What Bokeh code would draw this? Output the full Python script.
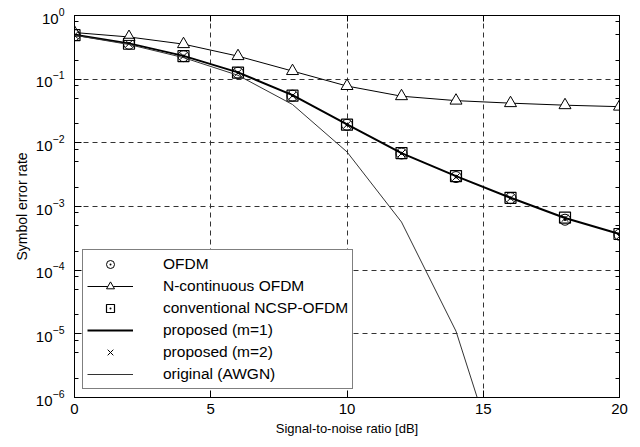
import numpy as np
from bokeh.plotting import figure
from bokeh.models import (Range1d, FixedTicker, LogAxis, LinearAxis, Legend, LegendItem,
                          LogTickFormatter)
from bokeh.embed import file_html
from bokeh.resources import INLINE

snr = [0, 2, 4, 6, 8, 10, 12, 14, 16, 18, 20]
ser_ofdm = [0.49, 0.36, 0.23, 0.126, 0.055, 0.0192, 0.0068, 0.0029, 0.00135, 0.00062, 0.00036]
ser_ncofdm = [0.54, 0.46, 0.355, 0.23, 0.134, 0.078, 0.054, 0.046, 0.042, 0.039, 0.037]
ser_conv = [0.49, 0.36, 0.23, 0.127, 0.055, 0.0193, 0.0069, 0.0030, 0.00137, 0.00067, 0.00037]
ser_prop1 = [0.50, 0.365, 0.232, 0.128, 0.056, 0.0195, 0.0069, 0.0030, 0.00137, 0.00066, 0.00037]
ser_prop2 = [0.49, 0.36, 0.23, 0.126, 0.055, 0.0192, 0.0068, 0.0029, 0.00135, 0.00065, 0.00034]
snr_awgn = [0, 2, 4, 6, 8, 10, 12, 14, 16]
ser_awgn = [0.49, 0.35, 0.218, 0.115, 0.040, 0.0072, 0.00057, 1.1e-5, 2.3e-8]

x_ticks = [0, 5, 10, 15, 20]
y_ticks = [1e-6, 1e-5, 1e-4, 1e-3, 1e-2, 1e-1, 1]
y_minor = [k * 10.0 ** e for e in range(-6, 0) for k in (2, 5, 8)]

FONT = "Liberation Sans"

p = figure(width=640, height=447, y_axis_type="log", output_backend="svg",
           toolbar_location=None, x_range=Range1d(0, 20), y_range=Range1d(1e-6, 1))
p.min_border_left = 74
p.min_border_right = 21
p.min_border_top = 15
p.min_border_bottom = 50
p.outline_line_color = "black"
p.outline_line_width = 1
p.background_fill_color = "white"
p.border_fill_color = "white"

p.xaxis.ticker = FixedTicker(ticks=x_ticks, minor_ticks=[])
p.yaxis.ticker = FixedTicker(ticks=y_ticks, minor_ticks=y_minor)
p.yaxis.formatter = LogTickFormatter()
for ax in (p.xaxis[0], p.yaxis[0]):
    ax.major_tick_in = 7
    ax.major_tick_out = 0
    ax.minor_tick_in = 4
    ax.minor_tick_out = 0
    ax.axis_line_color = "black"
    ax.major_tick_line_color = "black"
    ax.minor_tick_line_color = "black"
    ax.major_label_text_font = FONT
    ax.major_label_text_font_size = "15px"
    ax.major_label_text_color = "black"
    ax.axis_label_text_font = FONT
    ax.axis_label_text_font_style = "normal"
    ax.axis_label_text_color = "black"
p.xaxis.axis_label_text_font_size = "13px"
p.yaxis.axis_label_text_font_size = "14px"
p.xaxis.axis_label = "Signal-to-noise ratio [dB]"
p.yaxis.axis_label = "Symbol error rate"
p.xaxis.major_label_standoff = 6
p.yaxis.major_label_standoff = 10
p.xaxis.axis_label_standoff = 4
p.yaxis.axis_label_standoff = 3

# mirrored tick marks (no labels): all ticks given as minor ticks
right = LogAxis(ticker=FixedTicker(ticks=[], minor_ticks=y_minor + y_ticks),
                major_tick_in=0, major_tick_out=0, minor_tick_in=4, minor_tick_out=0,
                axis_line_color="black", minor_tick_line_color="black")
p.add_layout(right, "right")
top = LinearAxis(ticker=FixedTicker(ticks=[], minor_ticks=x_ticks),
                 major_tick_in=0, major_tick_out=0, minor_tick_in=6, minor_tick_out=0,
                 axis_line_color="black", minor_tick_line_color="black")
p.add_layout(top, "above")

for g in (p.xgrid[0], p.ygrid[0]):
    g.grid_line_color = "#333333"
    g.grid_line_dash = "5 4"
    g.grid_line_width = 1
p.xgrid.ticker = FixedTicker(ticks=x_ticks)
p.ygrid.ticker = FixedTicker(ticks=y_ticks)

r_ofdm = p.scatter(snr, ser_ofdm, marker="circle_dot", size=11, fill_color=None,
                   line_color="black", line_width=1)
r_nc_line = p.line(snr, ser_ncofdm, line_color="black", line_width=1)
r_nc = p.scatter(snr, ser_ncofdm, marker="triangle", size=12, fill_color="white",
                 line_color="black", line_width=1)
r_conv = p.scatter(snr, ser_conv, marker="square_dot", size=11, fill_color=None,
                   line_color="black", line_width=1.2)
r_p1 = p.line(snr, ser_prop1, line_color="black", line_width=2)
r_p2 = p.scatter(snr, ser_prop2, marker="x", size=10, line_color="black", line_width=1)
r_awgn = p.line(snr_awgn, ser_awgn, line_color="#333333", line_width=1)

legend = Legend(items=[
    LegendItem(label="OFDM", renderers=[r_ofdm]),
    LegendItem(label="N-continuous OFDM", renderers=[r_nc_line, r_nc]),
    LegendItem(label="conventional NCSP-OFDM", renderers=[r_conv]),
    LegendItem(label="proposed (m=1)", renderers=[r_p1]),
    LegendItem(label="proposed (m=2)", renderers=[r_p2]),
    LegendItem(label="original (AWGN)", renderers=[r_awgn]),
], location="bottom_left")
legend.label_text_font = FONT
legend.label_text_font_size = "15.5px"
legend.label_text_color = "black"
legend.label_height = 20
legend.glyph_height = 20
legend.glyph_width = 46
legend.label_standoff = 30
legend.spacing = 2
legend.padding = 4
legend.margin = 8
legend.border_line_color = "black"
legend.border_line_width = 1
legend.background_fill_color = "white"
legend.background_fill_alpha = 1
p.add_layout(legend, "center")

open("out.html", "w").write(file_html(p, INLINE))
